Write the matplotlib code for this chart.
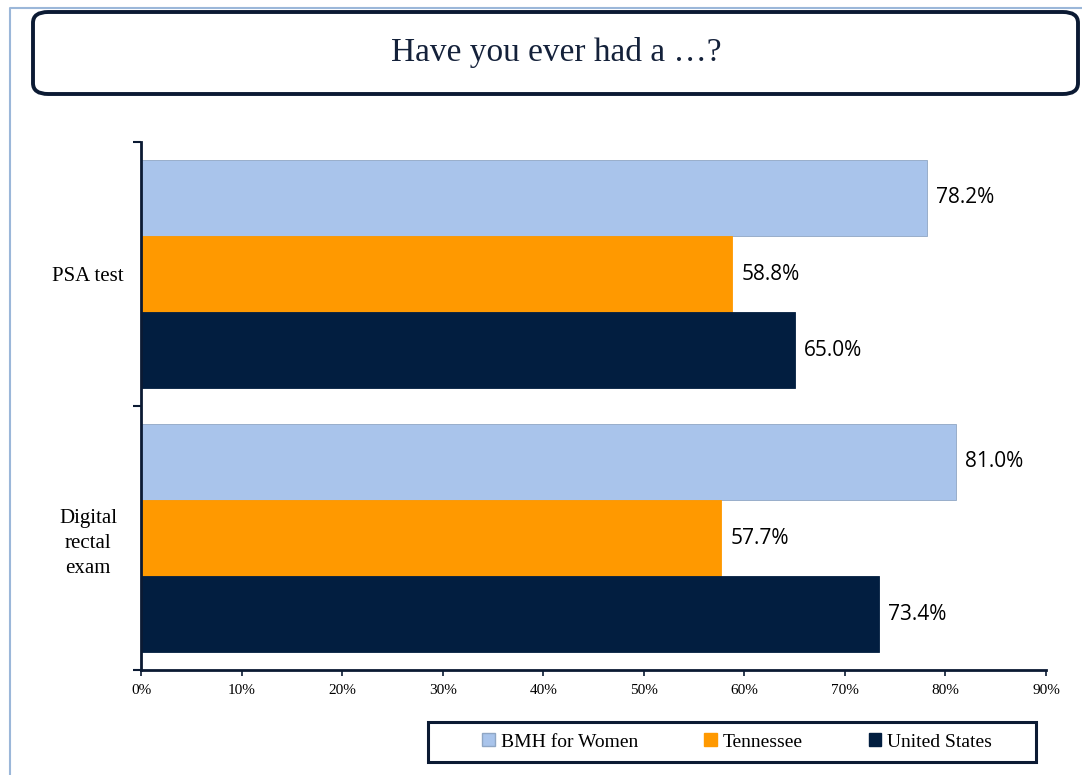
import matplotlib.pyplot as plt
from matplotlib.patches import FancyBboxPatch, Rectangle
from matplotlib.lines import Line2D
import numpy as np

# data
categories = ['PSA test', 'Digital\nrectal\nexam']
series = ['BMH for Women', 'Tennessee', 'United States']
bmh = [78.2, 81.0]
tennessee = [58.8, 57.7]
united_states = [65.0, 73.4]
xticks = [0, 10, 20, 30, 40, 50, 60, 70, 80, 90]

colors = ['#A9C4EB', '#FF9900', '#021E40']
navy = '#0B1A33'
serif = 'Liberation Serif'
sans = 'Open Sans'

fig = plt.figure(figsize=(10.82, 7.75), dpi=100)

# light blue page border on left / top
fig.add_artist(Line2D([10 / 1082, 10 / 1082, 1.0], [0.0, 1 - 8 / 775, 1 - 8 / 775],
                      color='#9BB7D9', lw=1.5, transform=fig.transFigure))

# title box
fig.add_artist(FancyBboxPatch((33 / 1082, 1 - 94 / 775), (1078 - 33) / 1082, 82 / 775,
                              boxstyle='round,pad=0,rounding_size=0.014',
                              transform=fig.transFigure, facecolor='white',
                              edgecolor=navy, lw=2.8))
fig.text(556 / 1082, 1 - 53 / 775, 'Have you ever had a \u2026?', ha='center', va='center',
         fontsize=24, family=serif, color='#14213a')

ax = fig.add_axes([141 / 1082, 1 - 670 / 775, (1046 - 141) / 1082, (670 - 142) / 775])

y = np.arange(len(categories))
h = 0.288
all_vals = [bmh, tennessee, united_states]
for i, (vals, c) in enumerate(zip(all_vals, colors)):
    ec = '#8FA6C4' if i == 0 else c
    bars = ax.barh(y + (i - 1) * h, vals, height=h, color=c, edgecolor=ec, lw=0.6)
    for b, v in zip(bars, vals):
        ax.text(v + 0.9, b.get_y() + b.get_height() / 2, f'{v:.1f}%', va='center', ha='left',
                fontsize=15, family=sans, color='black')

ax.set_xlim(0, 90)
ax.set_ylim(1.5, -0.5)
ax.set_xticks(xticks)
ax.set_xticklabels([f'{t}%' for t in xticks], family=serif, fontsize=11)
ax.tick_params(axis='x', length=4, width=1.2, color=navy, pad=6)

ax.set_yticks([-0.5, 0.5, 1.5])
ax.set_yticklabels([])
ax.tick_params(axis='y', which='major', length=6, width=1.5, color=navy)
ax.set_yticks(y, minor=True)
ax.set_yticklabels(categories, minor=True, family=serif, fontsize=15,
                   ha='center', multialignment='center', linespacing=1.45)
ax.tick_params(axis='y', which='minor', length=0, pad=38)

for s in ['top', 'right']:
    ax.spines[s].set_visible(False)
for s in ['left', 'bottom']:
    ax.spines[s].set_linewidth(2)
    ax.spines[s].set_color(navy)

# legend frame drawn separately so it matches the reference box
fig.add_artist(Rectangle((428 / 1082, 1 - 762 / 775), 608 / 1082, 40 / 775,
                         transform=fig.transFigure, facecolor='white', edgecolor=navy, lw=2.2))
handles = [plt.Rectangle((0, 0), 1, 1, facecolor=c, edgecolor='#8FA6C4' if i == 0 else c)
           for i, c in enumerate(colors)]
leg = fig.legend(handles, series, loc='center',
                 bbox_to_anchor=(737 / 1082, 1 - 742 / 775), ncol=3, frameon=False,
                 prop={'family': serif, 'size': 14},
                 handlelength=0.65, handleheight=0.65, handletextpad=0.3, columnspacing=3.4)

fig.savefig('out.png', dpi=100)
